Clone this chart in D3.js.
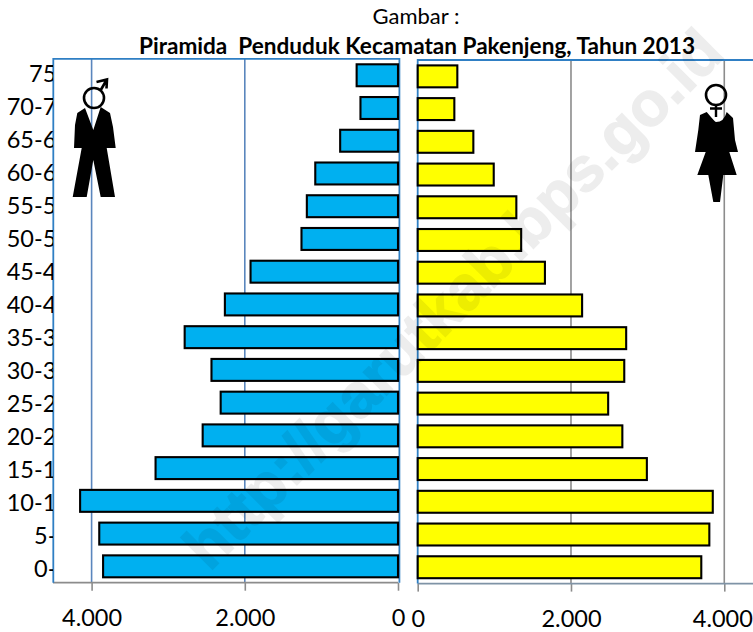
<!DOCTYPE html>
<html><head><meta charset="utf-8">
<script src="https://cdn.jsdelivr.net/npm/d3@7"></script>
<style>
html,body{margin:0;padding:0;background:#fff;overflow:hidden}
svg{display:block}
text{font-family:Lato,"Open Sans",sans-serif;fill:#000}
</style></head><body>
<svg id="c" width="753" height="632"></svg>
<script>
const ageGroups=["0-4","5-9","10-14","15-19","20-24","25-29","30-34","35-39","40-44","45-49","50-54","55-59","60-64","65-69","70-74","75+"];
const maleValues=[3850,3900,4150,3165,2550,2315,2435,2785,2260,1925,1260,1190,1080,755,490,540];
const femaleValues=[3700,3805,3850,2990,2670,2485,2695,2720,2145,1660,1350,1287,992,726,478,517];
const xTickValues=[0,2000,4000];
const titleLine1="Gambar :";
const titleLine2="Piramida  Penduduk Kecamatan Pakenjeng, Tahun 2013";
const watermark="http://garutkab.bps.go.id";

const svg=d3.select("#c");
const fmt=d3.formatLocale({decimal:",",thousands:".",grouping:[3],currency:["",""]}).format(",d");
const xL=d3.scaleLinear().domain([0,4500]).range([398,53.3]);
const xR=d3.scaleLinear().domain([0,4500]).range([417.7,762.6]);
const yL=d3.scaleBand().domain(ageGroups).range([582.7,58.9]).paddingInner(.33).paddingOuter(.165);
const yR=d3.scaleBand().domain(ageGroups).range([583.6,60]).paddingInner(.33).paddingOuter(.165);
const yLab=d3.scalePoint().domain(ageGroups).range([568.7,73.5]);
const BLUE="#2f7fc4",GRIDB="#5a86bd",GRAY="#8c8c8c";

svg.append("defs").append("clipPath").attr("id","lab").append("rect").attr("x",0).attr("y",40).attr("width",53).attr("height",560);

// gridlines
svg.append("g").selectAll("line").data(xTickValues.filter(d=>d>0)).join("line")
 .attr("x1",d=>xL(d)).attr("x2",d=>xL(d)).attr("y1",yL.range()[1]).attr("y2",yL.range()[0])
 .attr("stroke",GRIDB).attr("stroke-width",1.6);
svg.append("g").selectAll("line").data(xTickValues.filter(d=>d>0)).join("line")
 .attr("x1",d=>xR(d)).attr("x2",d=>xR(d)).attr("y1",yR.range()[1]).attr("y2",yR.range()[0])
 .attr("stroke",GRAY).attr("stroke-width",1.6);

// bottom axes
function bottom(scale,y,stroke,x0,x1){
 const g=svg.append("g").attr("transform",`translate(0,${y})`)
  .call(d3.axisBottom(scale).tickValues(xTickValues).tickFormat(fmt).tickSize(8).tickPadding(19));
 g.select(".domain").remove();
 g.append("line").attr("x1",x0).attr("x2",x1).attr("stroke",stroke).attr("stroke-width",1.8);
 g.selectAll(".tick line").attr("stroke",GRAY).attr("stroke-width",1.6);
 g.selectAll("text").style("font-size","23.5px").attr("fill","#000");
 return g;
}
bottom(xL,582.7,GRAY,53,398);
bottom(xR,583.6,"#7f93a6",417.7,753).selectAll(".tick text").attr("dx",d=>d===4000?-2:0);

// frame lines
const frame=svg.append("g").attr("fill","none").attr("stroke",BLUE).attr("stroke-width",1.8);
frame.append("path").attr("d",d3.line()([[xL.range()[1],yL.range()[0]],[xL.range()[1],yL.range()[1]],[xL(0)+1.4,yL.range()[1]],[xL(0)+1.4,yL.range()[0]]]));
frame.append("path").attr("d",d3.line()([[xR(0),yR.range()[0]],[xR(0),yR.range()[1]],[753,yR.range()[1]]]));

// bars
svg.append("g").selectAll("rect").data(ageGroups).join("rect")
 .attr("x",(d,i)=>xL(maleValues[i])).attr("y",d=>yL(d))
 .attr("width",(d,i)=>xL(0)-xL(maleValues[i])).attr("height",yL.bandwidth())
 .attr("fill","#00b0f0").attr("stroke","#000").attr("stroke-width",2.1);
svg.append("g").selectAll("rect").data(ageGroups).join("rect")
 .attr("x",xR(0)).attr("y",d=>yR(d))
 .attr("width",(d,i)=>xR(femaleValues[i])-xR(0)).attr("height",yR.bandwidth())
 .attr("fill","#ffff00").attr("stroke","#000").attr("stroke-width",2.1);

// category labels (cut off by the plot edge, as in the source)
const labG=svg.append("g").attr("clip-path","url(#lab)");
labG.selectAll("text").data(ageGroups).join("text")
 .attr("x",70).attr("y",d=>yLab(d)).attr("dy","0.35em")
 .attr("text-anchor","end").style("font-size","23.5px").text(d=>d);

// male pictogram
const icons=svg.append("g");
icons.append("path").attr("fill","#000").attr("d","M85 108L93.3 130L100.7 107L110 113L113 127L115.7 148L106.7 148L115 197L100.7 197L93.3 160L86.7 197L72.7 197L81.7 148L74 148L75 125L77.3 113Z");
icons.append("circle").attr("cx",94).attr("cy",98).attr("r",10).attr("fill","none").attr("stroke","#000").attr("stroke-width",2.6);
icons.append("path").attr("fill","none").attr("stroke","#000").attr("stroke-width",2.6).attr("d","M100.5 90.5L106.5 80M96.5 82L107 79.5L106.5 88.5");
// female pictogram
icons.append("path").attr("fill","#000").attr("d","M706.7 112Q715 122 716 122Q724 122 726.7 112L733 118L735 140L738 152L729.3 152L736.7 175L723.3 175L720 202L713.3 202L708.3 175L697.3 175L705.7 152L695 152L698.3 130L700 115Z");
icons.append("circle").attr("cx",716).attr("cy",95).attr("r",10).attr("fill","none").attr("stroke","#000").attr("stroke-width",2.6);
icons.append("path").attr("fill","none").attr("stroke","#000").attr("stroke-width",2.4).attr("d","M716 105L716 117M710 108.5L722 108.5");

// titles
svg.append("text").attr("x",416).attr("y",24).attr("text-anchor","middle").style("font-size","22px").text(titleLine1);
svg.append("text").attr("x",417).attr("y",54.3).attr("text-anchor","middle").style("font-size","22px").style("font-weight","700").style("white-space","pre")
 .attr("textLength",556).attr("lengthAdjust","spacingAndGlyphs").text(titleLine2);

// watermark
svg.append("text").attr("transform","translate(468,314) rotate(-45)").attr("text-anchor","middle")
 .style("font-family","'Liberation Sans',sans-serif").style("font-size","62.4px").style("font-weight","700")
 .style("fill","#000").style("stroke","#000").style("stroke-width",1.2).style("opacity",.065).text(watermark);
</script></body></html>
